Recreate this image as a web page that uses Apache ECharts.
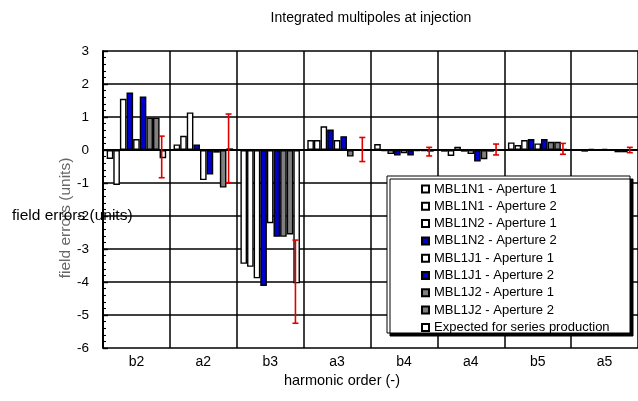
<!DOCTYPE html>
<html>
<head>
<meta charset="utf-8">
<script src="https://cdn.jsdelivr.net/npm/echarts@6/dist/echarts.min.js"></script>
<style>
html,body{margin:0;padding:0;background:#fff;}
#chart{width:638px;height:401px;}
</style>
</head>
<body>
<div id="chart"></div>
<script>
var categories = ['b2','a2','b3','a3','b4','a4','b5','a5'];
var seriesNames = ['MBL1N1 - Aperture 1','MBL1N1 - Aperture 2','MBL1N2 - Aperture 1','MBL1N2 - Aperture 2','MBL1J1 - Aperture 1','MBL1J1 - Aperture 2','MBL1J2 - Aperture 1','MBL1J2 - Aperture 2','Expected for series production'];
var mbl1n1_ap1 = [-0.27, 0.17, -3.45, 0.30, 0.18, -0.05, 0.23, -0.02];
var mbl1n1_ap2 = [-1.06, 0.43, -3.54, 0.30, -0.03, -0.18, 0.15, -0.05];
var mbl1n2_ap1 = [1.55, 1.14, -3.89, 0.72, -0.12, 0.10, 0.30, 0.04];
var mbl1n2_ap2 = [1.74, 0.17, -4.12, 0.62, -0.17, -0.05, 0.33, 0.01];
var mbl1j1_ap1 = [0.33, -0.91, -2.22, 0.30, -0.10, -0.12, 0.20, 0.04];
var mbl1j1_ap2 = [1.62, -0.74, -2.63, 0.42, -0.17, -0.35, 0.33, 0.01];
var mbl1j2_ap1 = [0.98, -0.08, -2.63, -0.20, -0.03, -0.28, 0.25, -0.07];
var mbl1j2_ap2 = [0.98, -1.14, -2.56, 0.02, -0.03, -0.05, 0.25, -0.07];
var expected   = [-0.25, 0.05, -4.04, 0.02, -0.05, 0.02, 0.03, 0.00];
var expectedLow  = [-0.84, -0.99, -5.25, -0.35, -0.18, -0.15, -0.13, -0.08];
var expectedHigh = [0.42, 1.09, -2.73, 0.38, 0.08, 0.18, 0.20, 0.08];
var yTicks = [-6,-5,-4,-3,-2,-1,0,1,2,3];

var WHITE = '#ffffff', BLUE = '#0000cc', GRAY = '#808080';
var fills = [WHITE, WHITE, WHITE, BLUE, WHITE, BLUE, GRAY, GRAY, WHITE];
var values = [mbl1n1_ap1, mbl1n1_ap2, mbl1n2_ap1, mbl1n2_ap2, mbl1j1_ap1, mbl1j1_ap2, mbl1j2_ap1, mbl1j2_ap2, expected];
var FONT = '"Liberation Sans", Arial, sans-serif';
var CAT_GAP = 0.11;

var chart = echarts.init(document.getElementById('chart'), null, {renderer:'canvas'});

var series = values.map(function(v, i){
  return {
    name: seriesNames[i], type: 'bar', data: v,
    barGap: '0%', barCategoryGap: (CAT_GAP*100)+'%',
    itemStyle: {color: fills[i], borderColor: '#000', borderWidth: 1.4},
    emphasis: {disabled: true}, animation: false, z: 2
  };
});

series.push({
  type: 'custom', name: 'err', z: 5, animation: false,
  data: categories.map(function(c, i){ return [i, expectedLow[i], expectedHigh[i]]; }),
  renderItem: function(params, api){
    var idx = api.value(0);
    var lo = api.coord([idx, api.value(1)]);
    var hi = api.coord([idx, api.value(2)]);
    var w = api.size([1, 0])[0];
    var inner = w * (1 - CAT_GAP);
    var bw = inner / 9;
    var x = lo[0] - inner/2 + 8.5*bw - 1.2;
    var cap = 3;
    var st = {stroke: '#e00000', lineWidth: 1.6};
    return {type: 'group', children: [
      {type:'line', shape:{x1:x, y1:lo[1], x2:x, y2:hi[1]}, style: st},
      {type:'line', shape:{x1:x-cap, y1:lo[1], x2:x+cap, y2:lo[1]}, style: st},
      {type:'line', shape:{x1:x-cap, y1:hi[1], x2:x+cap, y2:hi[1]}, style: st}
    ]};
  }
});

var option = {
  backgroundColor: '#fff',
  animation: false,
  title: {
    text: 'Integrated multipoles at injection', left: 366, top: 6, textAlign: 'center',
    textStyle: {fontFamily: FONT, fontSize: 14, fontWeight: 'normal', color: '#000'}
  },
  grid: {left: 103, top: 51, width: 539, height: 297, containLabel: false},
  legend: {
    orient: 'vertical', left: 416, top: 176.5, z: 20,
    itemWidth: 7, itemHeight: 7, itemGap: 2.3, icon: 'rect',
    data: seriesNames,
    selectedMode: false,
    textStyle: {fontFamily: FONT, fontSize: 13, color: '#000', lineHeight: 15}
  },
  xAxis: {
    type: 'category', data: categories, boundaryGap: true,
    axisLine: {lineStyle: {color: '#000', width: 2}},
    axisTick: {show: false},
    axisLabel: {fontFamily: FONT, fontSize: 14, color: '#000', margin: 7},
    splitLine: {show: true, interval: 0, lineStyle: {color: '#000', width: 1.5}}
  },
  yAxis: {
    type: 'value', min: yTicks[0], max: yTicks[yTicks.length-1], interval: 1,
    axisLine: {show: true, lineStyle: {color: '#000', width: 2}},
    axisTick: {show: true, inside: true, length: 5, lineStyle: {color: '#000', width: 1.4}},
    minorTick: {show: true, splitNumber: 5, length: 3, lineStyle: {color: '#000', width: 1.1}},
    axisLabel: {fontFamily: FONT, fontSize: 13.5, color: '#000', margin: 14},
    splitLine: {show: true, lineStyle: {color: '#000', width: 1.5}}
  },
  graphic: [
    {type: 'rect', z: 10, shape: {x: 387, y: 176, width: 243, height: 157},
     style: {fill: '#fff', stroke: '#000', lineWidth: 1, shadowColor: '#000', shadowOffsetX: 3, shadowOffsetY: 3, shadowBlur: 0}},
    {type: 'text', z: 10, x: 342, y: 381, style: {text: 'harmonic order (-)', fontFamily: FONT, fontSize: 14.5, fill: '#000', align: 'center', verticalAlign: 'middle'}},
    {type: 'text', z: 10, x: 66, y: 218, rotation: Math.PI/2, style: {text: 'field errors (units)', fontFamily: FONT, fontSize: 15.5, fill: '#666', align: 'center', verticalAlign: 'middle'}},
    {type: 'text', z: 10, x: 12, y: 216, style: {text: 'field errors (units)', fontFamily: FONT, fontSize: 15.5, fill: '#000', align: 'left', verticalAlign: 'middle'}}
  ],
  series: series
};
chart.setOption(option);
</script>
</body>
</html>
